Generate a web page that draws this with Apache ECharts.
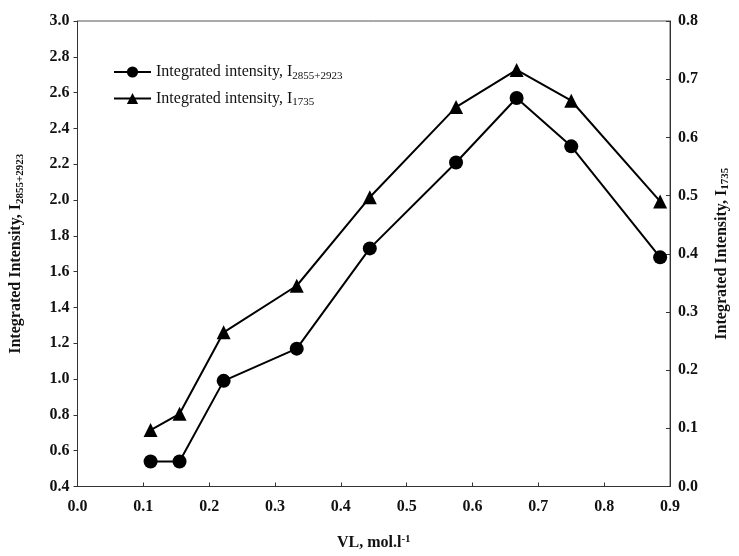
<!DOCTYPE html>
<html>
<head>
<meta charset="utf-8">
<script src="https://cdn.jsdelivr.net/npm/echarts@6/dist/echarts.min.js"></script>
<style>
  body { margin: 0; background: #fff; }
  #chart { width: 739px; height: 556px; }
</style>
</head>
<body>
<div id="chart"></div>
<script>
// VL concentration, mol/l
const vl = [0.111, 0.155, 0.222, 0.333, 0.444, 0.575, 0.667, 0.75, 0.885];
// I 2855+2923 (left axis)
const intensityCH = [0.54, 0.54, 0.99, 1.17, 1.73, 2.21, 2.57, 2.30, 1.68];
// I 1735 (right axis)
const intensityCO = [0.097, 0.125, 0.265, 0.345, 0.497, 0.652, 0.716, 0.663, 0.49];

const serif = 'Liberation Serif';
const nameCH = 'Integrated intensity, I2855+2923';
const nameCO = 'Integrated intensity, I1735';

let chart = echarts.init(document.getElementById('chart'));
let axisLine = { lineStyle: { color: '#333', width: 1 } };
let tickLabel = { fontFamily: serif, fontSize: 16, fontWeight: 'bold', color: '#111' };
let titleRich = {
    t: { fontFamily: serif, fontSize: 16, fontWeight: 'bold', color: '#111' },
    s: { fontFamily: serif, fontSize: 11, fontWeight: 'bold', color: '#111', padding: [8, 0, 0, 0] }
};

let options = {
    animation: false,
    grid: {
        left: 75, right: 64, top: 21, bottom: 68,
        show: true, borderColor: '#555', borderWidth: 1
    },
    legend: {
        orient: 'vertical',
        left: 108, top: 59,
        itemWidth: 37, itemHeight: 14, itemGap: 9,
        data: [nameCH, nameCO],
        formatter: (name) => {
            if (name === nameCH) return '{t|Integrated intensity, I}{s|2855+2923}';
            return '{t|Integrated intensity, I}{s|1735}';
        },
        textStyle: {
            rich: {
                t: { fontFamily: serif, fontSize: 16, color: '#111' },
                s: { fontFamily: serif, fontSize: 11, color: '#111', padding: [8, 0, 0, 0] }
            }
        }
    },
    xAxis: {
        type: 'value',
        min: 0, max: 0.9, interval: 0.1,
        axisLine: axisLine,
        axisTick: { inside: true, length: 4, lineStyle: { color: '#333' } },
        splitLine: { show: false },
        axisLabel: Object.assign({ margin: 12, formatter: v => v.toFixed(1) }, tickLabel),
        name: '{t|VL, mol.l}{s|-1}',
        nameLocation: 'middle',
        nameGap: 47,
        nameTextStyle: {
            rich: {
                t: titleRich.t,
                s: Object.assign({}, titleRich.s, { padding: [0, 0, 8, 0] })
            }
        }
    },
    yAxis: [
        {
            type: 'value',
            min: 0.4, max: 3.0, interval: 0.2,
            axisLine: axisLine,
            axisTick: { inside: false, length: 4, lineStyle: { color: '#333' } },
            splitLine: { show: false },
            axisLabel: Object.assign({ margin: 8, formatter: v => v.toFixed(1) }, tickLabel),
            name: '{t|Integrated Intensity, I}{s|2855+2923}',
            nameLocation: 'middle',
            nameRotate: 90,
            nameGap: 52,
            nameTextStyle: { rich: titleRich }
        },
        {
            type: 'value',
            position: 'right',
            min: 0, max: 0.8, interval: 0.1,
            axisLine: axisLine,
            axisTick: { inside: true, length: 4, lineStyle: { color: '#333' } },
            splitLine: { show: false },
            axisLabel: Object.assign({ margin: 8, formatter: v => v.toFixed(1) }, tickLabel),
            name: '{t|Integrated Intensity, I}{s|1735}',
            nameLocation: 'middle',
            nameRotate: 90,
            nameGap: 42,
            nameTextStyle: { rich: titleRich }
        }
    ],
    series: [
        {
            name: nameCH,
            type: 'line',
            yAxisIndex: 0,
            data: vl.map((x, i) => [x, intensityCH[i]]),
            symbol: 'circle',
            symbolSize: 14,
            lineStyle: { color: '#000', width: 2 },
            itemStyle: { color: '#000' }
        },
        {
            name: nameCO,
            type: 'line',
            yAxisIndex: 1,
            data: vl.map((x, i) => [x, intensityCO[i]]),
            symbol: 'triangle',
            symbolSize: 14,
            lineStyle: { color: '#000', width: 2 },
            itemStyle: { color: '#000' }
        }
    ]
};
chart.setOption(options);
</script>
</body>
</html>
